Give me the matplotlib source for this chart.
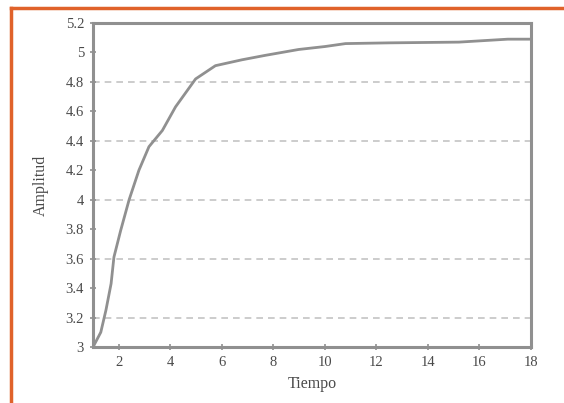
import matplotlib.pyplot as plt
from matplotlib.lines import Line2D
import numpy as np

# curva
tiempo = [1.0, 1.3, 1.5, 1.7, 1.81, 2.07, 2.4, 2.78, 3.17, 3.69, 4.2, 4.98,
          5.75, 6.78, 7.68, 8.98, 10.0, 10.8, 12.5, 15.2, 17.1, 18.0]
amplitud = [3.0, 3.10, 3.25, 3.43, 3.61, 3.79, 4.0, 4.20, 4.36, 4.47, 4.63, 4.82,
            4.91, 4.95, 4.98, 5.02, 5.04, 5.06, 5.065, 5.07, 5.09, 5.09]

xticks = [2, 4, 6, 8, 10, 12, 14, 16, 18]
yticks = [3, 3.2, 3.4, 3.6, 3.8, 4, 4.2, 4.4, 4.6, 4.8, 5, 5.2]
ytick_labels = ["3", "3.2", "3.4", "3.6", "3.8", "4", "4.2", "4.4", "4.6", "4.8", "5", "5.2"]
grid_y = [3.2, 3.6, 4.0, 4.4, 4.8]

gris = "#909090"
texto = "#4a4a4a"

fig = plt.figure(figsize=(5.64, 4.03), dpi=100)
ax = fig.add_axes([0.165, 0.139, 0.7765, 0.804])

for g in grid_y:
    ax.axhline(g, color="#c4c4c4", lw=1.2, ls=(0, (4, 3)), zorder=1)

ax.plot(tiempo, amplitud, color=gris, lw=2, zorder=3)

ax.set_xlim(1, 18)
ax.set_ylim(3, 5.2)
ax.set_xticks(xticks)
ax.set_yticks(yticks)
ax.set_yticklabels(ytick_labels)

for s in ax.spines.values():
    s.set_color(gris)
    s.set_linewidth(2.2)

ax.tick_params(direction="inout", length=5, width=1.2, color=gris,
               labelsize=10.5, labelcolor=texto, pad=4)
for lab in ax.get_xticklabels() + ax.get_yticklabels():
    lab.set_family("Liberation Serif")

ax.set_xlabel("Tiempo", family="Liberation Serif", fontsize=11.5, color=texto, labelpad=5)
ax.set_ylabel("Amplitud", family="Liberation Serif", fontsize=11.5, color=texto, labelpad=12)

# marco naranja arriba y a la izquierda
fig.add_artist(Line2D([11 / 564, 11 / 564], [0, 1 - 8 / 403], color="#e0622a", lw=2.5,
                      transform=fig.transFigure))
fig.add_artist(Line2D([11 / 564, 1], [1 - 8 / 403, 1 - 8 / 403], color="#e0622a", lw=2.5,
                      transform=fig.transFigure))

fig.savefig("out.png", dpi=100)
